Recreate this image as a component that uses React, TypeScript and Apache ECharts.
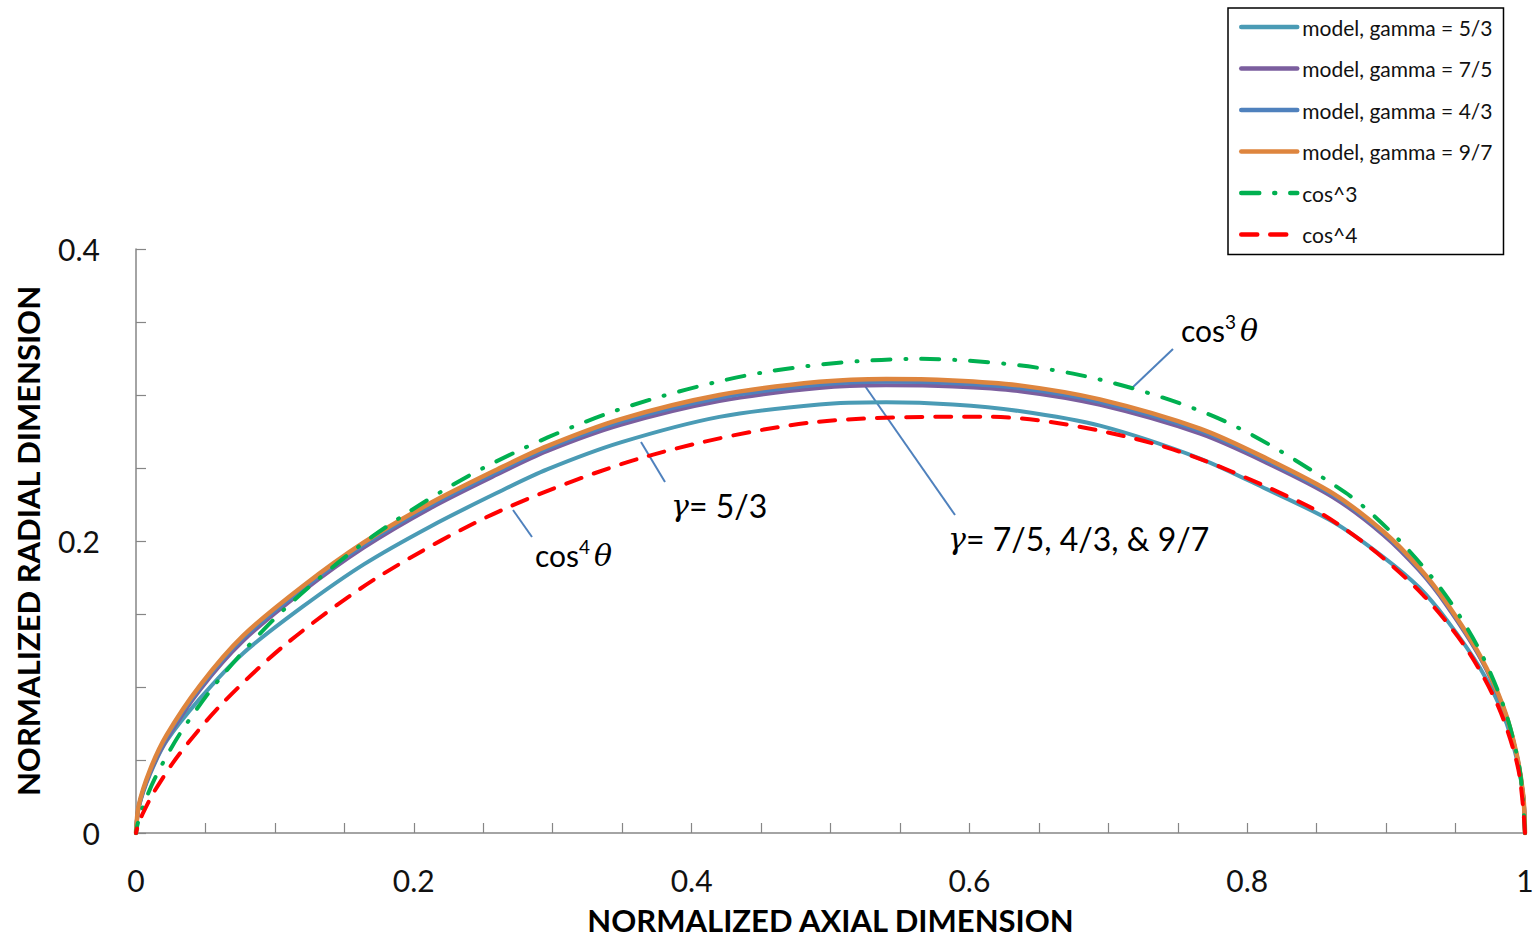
import React, { useEffect, useRef } from "react";
import * as echarts from "echarts";

// ---- data (x = normalized axial, y = normalized radial) ----
const seriesNames = [
  "model, gamma = 5/3",
  "model, gamma = 7/5",
  "model, gamma = 4/3",
  "model, gamma = 9/7",
  "cos^3",
  "cos^4",
];

const gamma53 = [
  [0, 0], [0.002, 0.0175], [0.01, 0.04], [0.022, 0.063], [0.046, 0.092],
  [0.077, 0.123], [0.12, 0.155], [0.164, 0.184], [0.212, 0.21],
  [0.26, 0.233], [0.296, 0.249], [0.349, 0.2675], [0.42, 0.285],
  [0.492, 0.2935], [0.54, 0.295], [0.588, 0.2935], [0.636, 0.289],
  [0.694, 0.279], [0.766, 0.2565], [0.814, 0.2355], [0.862, 0.213],
  [0.898, 0.189], [0.924, 0.168], [0.9436, 0.146], [0.9676, 0.113],
  [0.9844, 0.081], [0.994, 0.051], [0.9988, 0.024], [1, 0],
];

const gamma75 = [
  [0, 0], [0.002, 0.018], [0.01, 0.041], [0.022, 0.064], [0.046, 0.098],
  [0.077, 0.1315], [0.12, 0.1655], [0.164, 0.1955], [0.212, 0.2225],
  [0.26, 0.2455], [0.296, 0.2615], [0.349, 0.2795], [0.42, 0.2958],
  [0.492, 0.3048], [0.54, 0.3066], [0.588, 0.3058], [0.636, 0.3026],
  [0.694, 0.2932], [0.766, 0.2735], [0.814, 0.2535], [0.862, 0.2298],
  [0.898, 0.2042], [0.924, 0.1796], [0.9436, 0.1558], [0.9676, 0.1202],
  [0.9844, 0.0855], [0.994, 0.0534], [0.9988, 0.0248], [1, 0],
];

const gamma43 = [
  [0, 0], [0.002, 0.0185], [0.01, 0.042], [0.022, 0.0655], [0.046, 0.0995],
  [0.077, 0.1333], [0.12, 0.1672], [0.164, 0.1972], [0.212, 0.2242],
  [0.26, 0.2472], [0.296, 0.2632], [0.349, 0.2816], [0.42, 0.298],
  [0.492, 0.307], [0.54, 0.309], [0.588, 0.308], [0.636, 0.3047],
  [0.694, 0.2952], [0.766, 0.2754], [0.814, 0.2551], [0.862, 0.2313],
  [0.898, 0.2055], [0.924, 0.1806], [0.9436, 0.1567], [0.9676, 0.1208],
  [0.9844, 0.086], [0.994, 0.0537], [0.9988, 0.0249], [1, 0],
];

const gamma97 = [
  [0, 0], [0.002, 0.019], [0.01, 0.043], [0.022, 0.067], [0.046, 0.101],
  [0.077, 0.135], [0.12, 0.169], [0.164, 0.199], [0.212, 0.226],
  [0.26, 0.249], [0.296, 0.265], [0.349, 0.2835], [0.42, 0.3],
  [0.492, 0.309], [0.54, 0.311], [0.588, 0.31], [0.636, 0.3066],
  [0.694, 0.297], [0.766, 0.277], [0.814, 0.2565], [0.862, 0.2325],
  [0.898, 0.2065], [0.924, 0.1815], [0.9436, 0.1575], [0.9676, 0.1215],
  [0.9844, 0.0865], [0.994, 0.054], [0.9988, 0.025], [1, 0],
];

const cos3 = [
  [1, 0], [0.99619, 0.0435], [0.98486, 0.08617], [0.96621, 0.12721],
  [0.94061, 0.16585], [0.90852, 0.20141], [0.87051, 0.23326],
  [0.77973, 0.2838], [0.6747, 0.31462], [0.5625, 0.32476],
  [0.45025, 0.31527], [0.34436, 0.28895], [0.25, 0.25], [0.17072, 0.20345],
  [0.10823, 0.15457], [0.0625, 0.10825], [0.0319, 0.06841],
  [0.01368, 0.0376], [0.00449, 0.01675], [0.00091, 0.00516], [0, 0],
];

const cos4 = [
  [1, 0], [0.99524, 0.04345], [0.98111, 0.08584], [0.95794, 0.12612],
  [0.92632, 0.16334], [0.88699, 0.19664], [0.84085, 0.22531],
  [0.7327, 0.26668], [0.61149, 0.28514], [0.48714, 0.28125],
  [0.36882, 0.25825], [0.26379, 0.22135], [0.17678, 0.17678],
  [0.10974, 0.13078], [0.06208, 0.08866], [0.03125, 0.05413],
  [0.01348, 0.02891], [0.00468, 0.01286], [0.00116, 0.00434],
  [0.00016, 0.0009], [0, 0],
];

const xTickLabels = ["0", "0.2", "0.4", "0.6", "0.8", "1"];
const yTickLabels = ["0", "0.2", "0.4"];

const colors = ["#4A9BB5", "#7B5E9E", "#4F81BD", "#DE853E", "#00B050", "#FF0000"];

const FONT = "Lato, 'Open Sans', sans-serif";
const SERIF = "'DejaVu Serif', serif";

export default function App() {
  const ref = useRef<HTMLDivElement>(null);

  useEffect(() => {
    if (!ref.current) return;
    const chart = echarts.init(ref.current, undefined, { renderer: "svg" });

    const fmt = (list: string[]) => (v: number) => {
      const s = String(Math.round(v * 1000) / 1000);
      return list.indexOf(s) >= 0 ? s : "";
    };

    const solid = (name: string, data: number[][], color: string, width: number) => ({
      name,
      type: "line",
      data,
      showSymbol: false,
      symbol: "none",
      smooth: 0.3,
      clip: false,
      lineStyle: { color, width, cap: "round", join: "round" },
      itemStyle: { color },
    });

    const cosRich = {
      n: { fontFamily: FONT, fontSize: 30, color: "#000", lineHeight: 36 },
      s: { fontFamily: FONT, fontSize: 19, color: "#000", verticalAlign: "top", lineHeight: 22 },
      t: { fontFamily: SERIF, fontStyle: "italic", fontSize: 30, color: "#000", lineHeight: 36, padding: [0, 0, 0, 4] },
    };
    const gammaRich = {
      g: { fontFamily: SERIF, fontStyle: "italic", fontSize: 30, color: "#000", lineHeight: 36 },
      n: { fontFamily: FONT, fontSize: 32, color: "#000", lineHeight: 36 },
    };

    const option: any = {
      animation: false,
      backgroundColor: "#ffffff",
      color: colors,
      grid: { left: 136, right: 13, top: 249, bottom: 104 },
      xAxis: {
        type: "value",
        min: 0,
        max: 1,
        interval: 0.05,
        name: "NORMALIZED AXIAL DIMENSION",
        nameLocation: "middle",
        nameGap: 71,
        nameTextStyle: { fontFamily: FONT, fontWeight: "bold", fontSize: 31, color: "#000" },
        axisLine: { show: true, onZero: false, lineStyle: { color: "#868686", width: 1.5 } },
        axisTick: { show: true, inside: true, length: 10, lineStyle: { color: "#868686", width: 1.2 } },
        axisLabel: {
          formatter: fmt(xTickLabels),
          fontFamily: FONT,
          fontSize: 30,
          color: "#111",
          margin: 32,
        },
        splitLine: { show: false },
      },
      yAxis: {
        type: "value",
        min: 0,
        max: 0.4,
        interval: 0.05,
        name: "NORMALIZED RADIAL DIMENSION",
        nameLocation: "middle",
        nameGap: 93,
        nameTextStyle: { fontFamily: FONT, fontWeight: "bold", fontSize: 31, color: "#000" },
        axisLine: { show: true, onZero: false, lineStyle: { color: "#868686", width: 1.5 } },
        axisTick: { show: true, inside: true, length: 10, lineStyle: { color: "#868686", width: 1.2 } },
        axisLabel: {
          formatter: fmt(yTickLabels),
          fontFamily: FONT,
          fontSize: 30,
          color: "#111",
          margin: 36,
        },
        splitLine: { show: false },
      },
      legend: {
        orient: "vertical",
        left: 1228,
        top: 8,
        padding: [8, 11, 9, 11],
        borderColor: "#000",
        borderWidth: 1.5,
        itemWidth: 56,
        itemHeight: 14,
        itemGap: 19.5,
        itemStyle: { opacity: 0 },
        lineStyle: { width: 4.5, cap: "round" },
        textStyle: { fontFamily: FONT, fontSize: 21, color: "#111", lineHeight: 22 },
        data: seriesNames,
      },
      series: [
        solid(seriesNames[0], gamma53, colors[0], 4),
        solid(seriesNames[1], gamma75, colors[1], 4),
        solid(seriesNames[2], gamma43, colors[2], 4),
        solid(seriesNames[3], gamma97, colors[3], 4.5),
        {
          name: seriesNames[4],
          type: "line",
          data: cos3,
          showSymbol: false,
          symbol: "none",
          smooth: 0.3,
          clip: false,
          lineStyle: { color: colors[4], width: 4, type: [18, 15, 1, 15], cap: "round" },
          itemStyle: { color: colors[4] },
        },
        {
          name: seriesNames[5],
          type: "line",
          data: cos4,
          showSymbol: false,
          symbol: "none",
          smooth: 0.3,
          clip: false,
          lineStyle: { color: colors[5], width: 4, type: [16, 13], cap: "round" },
          itemStyle: { color: colors[5] },
        },
      ],
      graphic: [
        // leader lines
        { type: "line", shape: { x1: 1173, y1: 349, x2: 1132, y2: 388 }, style: { stroke: "#4F81BD", lineWidth: 2 } },
        { type: "line", shape: { x1: 641, y1: 442, x2: 665, y2: 482 }, style: { stroke: "#4F81BD", lineWidth: 2 } },
        { type: "line", shape: { x1: 513, y1: 510, x2: 532, y2: 537 }, style: { stroke: "#4F81BD", lineWidth: 2 } },
        { type: "line", shape: { x1: 865, y1: 386, x2: 955, y2: 515 }, style: { stroke: "#4F81BD", lineWidth: 2 } },
        // labels
        {
          type: "text",
          x: 1181,
          y: 330,
          style: { text: "{n|cos}{s|3}{t|θ}", verticalAlign: "middle", align: "left", rich: cosRich },
        },
        {
          type: "text",
          x: 535,
          y: 555,
          style: { text: "{n|cos}{s|4}{t|θ}", verticalAlign: "middle", align: "left", rich: cosRich },
        },
        {
          type: "text",
          x: 671,
          y: 505,
          style: { text: "{g|γ}{n|= 5/3}", verticalAlign: "middle", align: "left", rich: gammaRich },
        },
        {
          type: "text",
          x: 948,
          y: 538,
          style: { text: "{g|γ}{n|= 7/5, 4/3, & 9/7}", verticalAlign: "middle", align: "left", rich: gammaRich },
        },
      ],
    };

    chart.setOption(option);
    return () => chart.dispose();
  }, []);

  return (
    <div
      ref={ref}
      style={{ position: "fixed", left: 0, top: 0, width: 1538, height: 940, background: "#fff" }}
    />
  );
}
